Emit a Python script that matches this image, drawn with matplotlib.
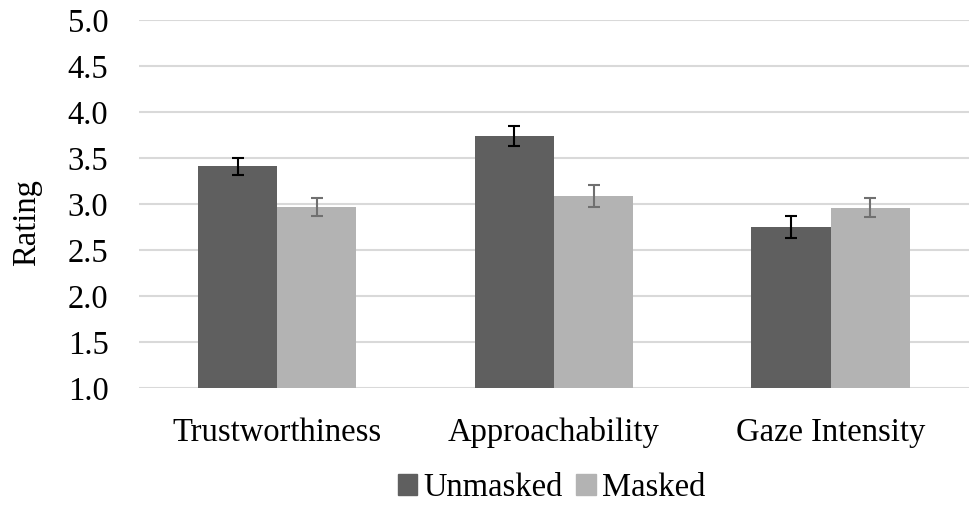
import matplotlib.pyplot as plt
import numpy as np
from matplotlib.patches import Patch

categories = ['Trustworthiness', 'Approachability', 'Gaze Intensity']
unmasked = [3.41, 3.74, 2.75]
masked = [2.97, 3.09, 2.96]
unmasked_err = [0.09, 0.105, 0.12]
masked_err = [0.10, 0.12, 0.10]

plt.rcParams['font.family'] = ['Liberation Serif', 'DejaVu Serif']

fig = plt.figure(figsize=(9.71, 5.05), dpi=100)
ax = fig.add_axes([0.1432, 0.2317, 0.8546, 0.7287])

x = np.arange(len(categories))
w = 0.286
c_un = '#5f5f5f'
c_ma = '#b3b3b3'

ax.bar(x - w/2, unmasked, w, color=c_un, zorder=2)
ax.bar(x + w/2, masked, w, color=c_ma, zorder=2)
ax.errorbar(x - w/2, unmasked, yerr=unmasked_err, fmt='none', ecolor='black',
            elinewidth=1.5, capsize=4.5, capthick=1.5, zorder=3)
ax.errorbar(x + w/2, masked, yerr=masked_err, fmt='none', ecolor='#707070',
            elinewidth=1.5, capsize=4.5, capthick=1.5, zorder=3)

ax.set_xlim(-0.5, 2.5)
ax.set_ylim(1.0, 5.0)
ticks = np.arange(1.0, 5.01, 0.5)
ax.set_yticks(ticks)
ax.set_yticklabels([f'{v:.1f}' for v in ticks])
ax.set_xticks(x)
ax.set_xticklabels(categories)
ax.grid(axis='y', color='#d9d9d9', linewidth=1.5, zorder=0)
ax.set_axisbelow(True)
for s in ax.spines.values():
    s.set_visible(False)
ax.tick_params(axis='both', length=0, labelsize=23.5)
ax.tick_params(axis='y', pad=22)
ax.tick_params(axis='x', pad=21)
ax.set_ylabel('Rating', fontsize=23.5)
ax.yaxis.set_label_coords(-0.117, 0.45)

handles = [Patch(color=c_un, label='Unmasked'), Patch(color=c_ma, label='Masked')]
fig.legend(handles=handles, loc='center', bbox_to_anchor=(0.568, 0.034), ncol=2,
           frameon=False, fontsize=23.5, handlelength=0.6, handleheight=0.6,
           handletextpad=0.2, columnspacing=0.4)

fig.savefig('out.png', dpi=100)
